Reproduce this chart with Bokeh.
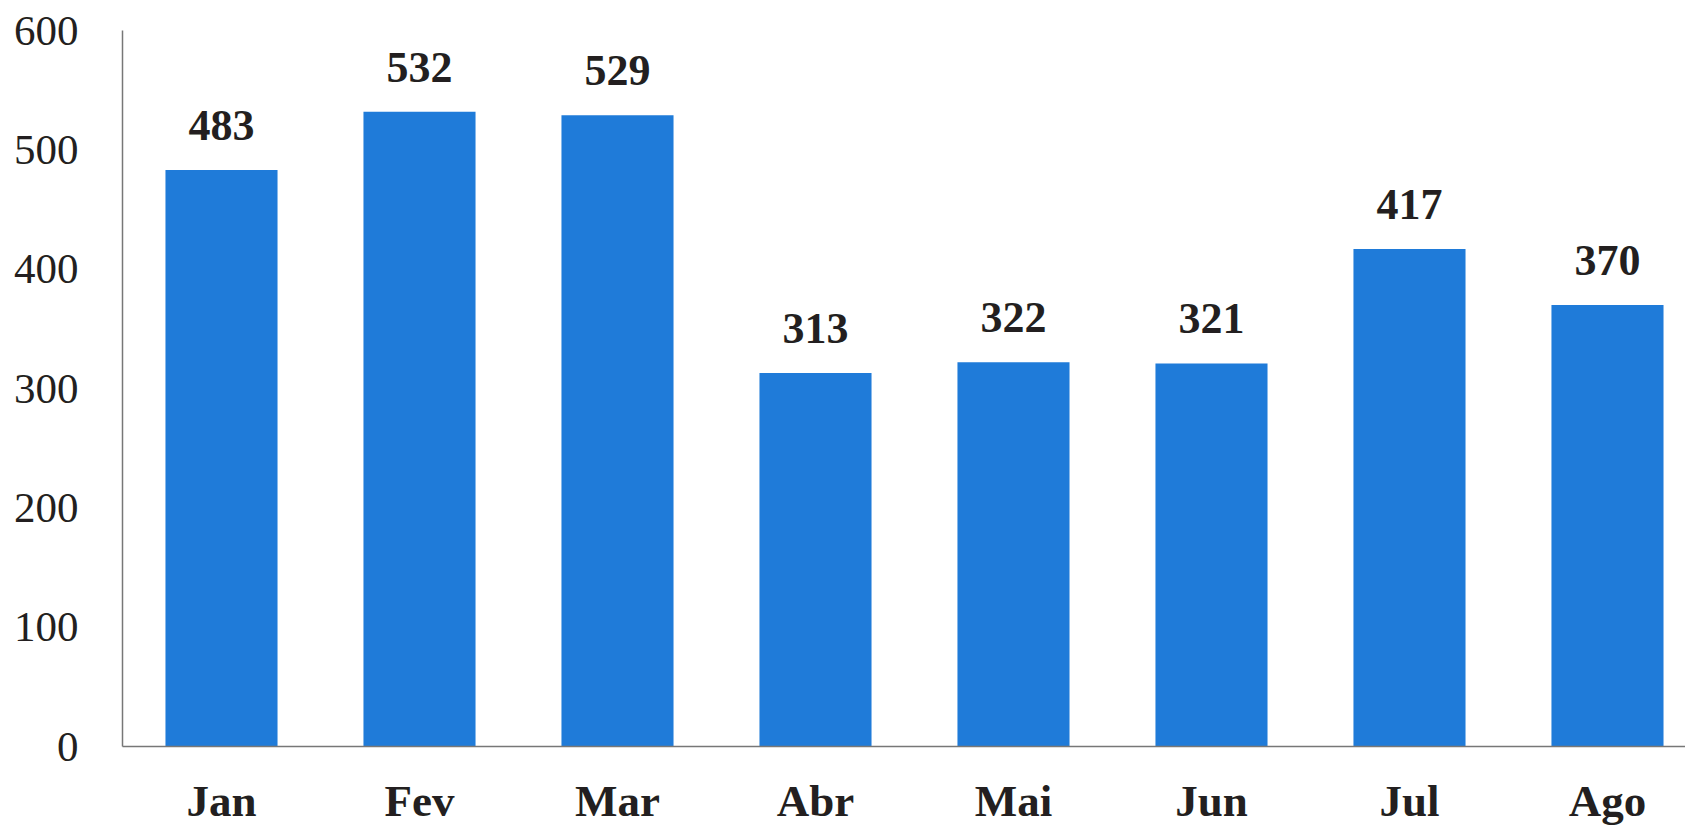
from bokeh.plotting import figure
from bokeh.models import ColumnDataSource, LabelSet, Range1d, FixedTicker
from bokeh.embed import file_html
from bokeh.resources import INLINE

months = ["Jan", "Fev", "Mar", "Abr", "Mai", "Jun", "Jul", "Ago"]
values = [483, 532, 529, 313, 322, 321, 417, 370]
y_ticks = [0, 100, 200, 300, 400, 500, 600]

xs = list(range(len(months)))
src = ColumnDataSource(dict(x=xs, top=values, label=[str(v) for v in values]))

p = figure(frame_width=1563, frame_height=716, output_backend="svg",
           toolbar_location=None, x_range=Range1d(-0.5, 7.394),
           y_range=Range1d(0, 600), min_border_left=122, min_border_top=30,
           min_border_right=0, min_border_bottom=0)

p.vbar(x="x", top="top", width=0.566, source=src, color="#1f7bd9", line_color=None)

labels = LabelSet(x="x", y="top", text="label", source=src, y_offset=30,
                  text_align="center", text_baseline="alphabetic",
                  text_font="Liberation Serif", text_font_style="bold",
                  text_font_size="44px", text_color="#231f20")
p.add_layout(labels)

p.xgrid.grid_line_color = None
p.ygrid.grid_line_color = None
p.outline_line_color = None
p.background_fill_color = "white"
p.border_fill_color = "white"

p.xaxis.ticker = FixedTicker(ticks=xs)
p.xaxis.major_label_overrides = {i: m for i, m in enumerate(months)}
p.xaxis.major_label_text_font = "Liberation Serif"
p.xaxis.major_label_text_font_style = "bold"
p.xaxis.major_label_text_font_size = "45px"
p.xaxis.major_label_text_color = "#231f20"
p.xaxis.major_label_standoff = 23

p.yaxis.ticker = FixedTicker(ticks=y_ticks)
p.yaxis.major_label_text_font = "Liberation Serif"
p.yaxis.major_label_text_font_size = "43px"
p.yaxis.major_label_text_color = "#231f20"
p.yaxis.major_label_standoff = 38

for ax in (p.xaxis[0], p.yaxis[0]):
    ax.axis_line_color = "#777777"
    ax.axis_line_width = 1.5
    ax.major_tick_line_color = None
    ax.minor_tick_line_color = None

open("out.html", "w").write(file_html(p, INLINE))
